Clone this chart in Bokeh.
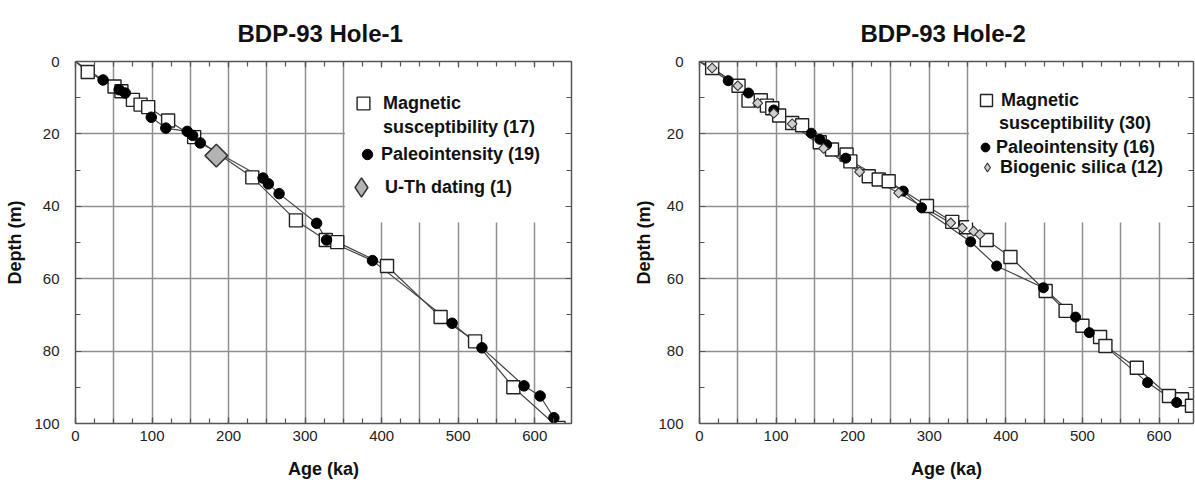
import numpy as np
from bokeh.plotting import figure
from bokeh.models import (Range1d, LinearAxis, FixedTicker, Legend, LegendItem,
                          BoxAnnotation)
from bokeh.layouts import row
from bokeh.embed import file_html
from bokeh.resources import INLINE

# ---------------- data (age in ka, depth in m) ----------------
# Hole-1
h1_ms_age = [16, 51, 60, 75, 85, 95, 121, 155, 231, 288, 327, 342, 407, 477, 522, 572, 631]
h1_ms_depth = [2.9, 6.9, 8.2, 10.6, 11.9, 12.6, 16.3, 20.9, 32.0, 43.9, 49.3, 49.9, 56.5, 70.6, 77.3, 90.0, 101.2]
h1_pi_age = [36, 57, 65, 99, 118, 146, 153, 163, 245, 252, 266, 315, 328, 388, 492, 531, 586, 607, 625]
h1_pi_depth = [5.1, 7.8, 8.7, 15.4, 18.4, 19.3, 20.4, 22.5, 32.2, 33.8, 36.5, 44.7, 49.3, 55.0, 72.3, 79.1, 89.6, 92.4, 98.4]
h1_uth_age = [184]
h1_uth_depth = [26.0]

# Hole-2
h2_ms_age = [16.5, 51, 64, 80, 88, 95, 104, 121, 134, 157, 173, 192, 197, 221, 234, 247, 297, 330, 348, 375,
             406, 452, 478, 500, 523, 530, 571, 613, 630, 643]
h2_ms_depth = [1.8, 6.7, 10.8, 10.7, 12.2, 12.9, 14.9, 17.0, 17.6, 22.3, 24.3, 25.7, 27.6, 31.7, 32.6, 33.1, 39.9,
               44.3, 45.8, 49.3, 54.0, 63.4, 68.9, 73.0, 76.1, 78.6, 84.6, 92.4, 93.3, 95.1]
h2_pi_age = [37.5, 64, 97, 146, 157, 166, 191, 266, 290, 354, 388, 449, 491, 509, 585, 623]
h2_pi_depth = [5.3, 8.7, 13.4, 19.8, 21.5, 23.0, 26.7, 35.8, 40.4, 49.8, 56.5, 62.5, 70.6, 74.9, 88.7, 94.2]
h2_bs_age = [16.5, 50, 76, 97, 121, 162, 209, 260, 328, 343, 358, 366]
h2_bs_depth = [1.8, 6.7, 11.5, 14.3, 17.2, 24.0, 30.5, 36.3, 44.6, 46.0, 46.9, 47.8]

# core top (lines start at the origin)
top_age = [0]
top_depth = [0]

x_labels = [0, 100, 200, 300, 400, 500, 600]
y_labels = [0, 20, 40, 60, 80, 100]
x_minor = list(range(0, 651, 25))
y_minor = list(range(0, 101, 10))
x_grid = list(range(50, 651, 50))
y_grid = [20, 40, 60, 80]

FONT = "Liberation Sans"
AX = "#555555"
GRID = "#8f8f8f"
LINE = "#444444"


def style_axis(ax, labels=True, standoff=5):
    ax.axis_line_color = AX
    ax.axis_line_width = 1.5
    ax.major_tick_in = 6
    ax.major_tick_out = 0
    ax.minor_tick_in = 5
    ax.minor_tick_out = 0
    ax.major_tick_line_color = AX
    ax.minor_tick_line_color = AX
    ax.major_tick_line_width = 1.2
    ax.minor_tick_line_width = 1.2
    if labels:
        ax.major_label_text_font = FONT
        ax.major_label_text_font_size = "15px"
        ax.major_label_text_color = "#222222"
        ax.major_label_standoff = standoff
        ax.axis_label_text_font = FONT
        ax.axis_label_text_font_style = "bold"
        ax.axis_label_text_font_size = "18px"
        ax.axis_label_text_color = "#111111"
    else:
        ax.major_label_text_font_size = "1px"
        ax.major_label_text_color = None
        ax.major_label_standoff = 0


def make_panel(title, x_end, frame_w, border_left, border_right, ylab_standoff):
    p = figure(frame_width=frame_w, frame_height=362,
               x_range=Range1d(0, x_end), y_range=Range1d(100, 0),
               output_backend="svg", toolbar_location=None,
               min_border_left=border_left, min_border_right=border_right,
               min_border_top=61, min_border_bottom=59,
               background_fill_color="white", border_fill_color="white",
               outline_line_color=None)
    p.title.text = title
    p.title.align = "center"
    p.title.vertical_align = "top"
    p.title.text_font = FONT
    p.title.text_font_style = "bold"
    p.title.text_font_size = "24px"
    p.title.text_color = "#111111"
    p.title.standoff = 26

    p.xaxis.ticker = FixedTicker(ticks=x_labels, minor_ticks=x_minor)
    p.yaxis.ticker = FixedTicker(ticks=y_labels, minor_ticks=y_minor)
    style_axis(p.xaxis[0], True, 7)
    style_axis(p.yaxis[0], True, 16)
    p.xaxis.axis_label = "Age (ka)"
    p.xaxis.axis_label_standoff = 15
    p.yaxis.axis_label = "Depth (m)"
    p.yaxis.axis_label_standoff = ylab_standoff

    top = LinearAxis(ticker=FixedTicker(ticks=x_labels, minor_ticks=x_minor))
    style_axis(top, False)
    p.add_layout(top, "above")
    right = LinearAxis(ticker=FixedTicker(ticks=y_labels, minor_ticks=y_minor))
    style_axis(right, False)
    p.add_layout(right, "right")

    p.xgrid.ticker = FixedTicker(ticks=x_grid)
    p.ygrid.ticker = FixedTicker(ticks=y_grid)
    for g in (p.xgrid[0], p.ygrid[0]):
        g.grid_line_color = GRID
        g.grid_line_width = 1.5

    # white legend area hiding the grid
    p.add_layout(BoxAnnotation(left=352, bottom=44.5, fill_color="white", fill_alpha=1.0,
                               line_alpha=0, level="glyph"))
    return p


def add_leg(p, label, r, gw, gh, standoff, vx, vy):
    leg = Legend(items=[LegendItem(label=label, renderers=[r])], location=(vx, vy),
                 glyph_width=gw, glyph_height=gh, label_standoff=standoff,
                 label_height=10, label_width=10,
                 padding=0, margin=0, spacing=0, border_line_alpha=0,
                 background_fill_alpha=0,
                 label_text_font=FONT, label_text_font_style="bold",
                 label_text_font_size="18px", label_text_color="#111111")
    p.add_layout(leg)


# ---------------- Hole-1 ----------------
p1 = make_panel("BDP-93  Hole-1", 648, 496, 75, 53, 6)
p1.line(top_age + h1_ms_age, top_depth + h1_ms_depth, line_color=LINE, line_width=1.2)
p1.line(top_age + h1_pi_age, top_depth + h1_pi_depth, line_color=LINE, line_width=1.2)
r_ms1 = p1.scatter(h1_ms_age, h1_ms_depth, marker="square", size=13, fill_color="white",
                   line_color="#222222", line_width=1.4)
r_pi1 = p1.scatter(h1_pi_age, h1_pi_depth, marker="circle", size=10.5, fill_color="black",
                   line_color="black")
# diamond key for the legend (hidden under the rotated-square marker)
k_uth1 = p1.scatter(h1_uth_age, h1_uth_depth, marker="diamond", size=10, fill_color="#b3b3b3",
                    line_color="#333333", line_width=1.5)
p1.scatter(h1_uth_age, h1_uth_depth, marker="square", angle=45, angle_units="deg",
           size=16, fill_color="#b3b3b3", line_color="#333333", line_width=1.5)
d1 = p1.scatter(h1_uth_age, h1_uth_depth, size=1, fill_alpha=0, line_alpha=0)
add_leg(p1, "Magnetic", r_ms1, 32, 32, 4, 272, 304)
add_leg(p1, "susceptibility (17)", d1, 20, 24, 0, 288, 284)
add_leg(p1, "Paleointensity (19)", r_pi1, 26, 26, 1, 279, 256)
add_leg(p1, "U-Th dating (1)", k_uth1, 48, 48, 0, 262, 212)

# ---------------- Hole-2 ----------------
p2 = make_panel("BDP-93  Hole-2", 645, 494, 75, 2, 1)
p2.line(top_age + h2_ms_age, top_depth + h2_ms_depth, line_color=LINE, line_width=1.2)
p2.line(top_age + h2_pi_age, top_depth + h2_pi_depth, line_color=LINE, line_width=1.2)
p2.line(top_age + h2_bs_age, top_depth + h2_bs_depth, line_color=LINE, line_width=1.2)
r_ms2 = p2.scatter(h2_ms_age, h2_ms_depth, marker="square", size=13, fill_color="white",
                   line_color="#222222", line_width=1.4)
r_pi2 = p2.scatter(h2_pi_age, h2_pi_depth, marker="circle", size=10, fill_color="black",
                   line_color="black")
k_bs2 = p2.scatter(h2_bs_age, h2_bs_depth, marker="diamond", size=4, fill_color="#cfcfcf",
                   line_color="#333333", line_width=1.1)
p2.scatter(h2_bs_age, h2_bs_depth, marker="square", angle=45, angle_units="deg",
           size=7, fill_color="#cfcfcf", line_color="#333333", line_width=1.1)
d2 = p2.scatter(h2_bs_age, h2_bs_depth, size=1, fill_alpha=0, line_alpha=0)
add_leg(p2, "Magnetic", r_ms2, 30, 30, 0, 272, 308)
add_leg(p2, "susceptibility (30)", d2, 20, 24, 0, 280, 288)
add_leg(p2, "Paleointensity (16)", r_pi2, 22, 24, 0, 275, 264)
add_leg(p2, "Biogenic silica (12)", k_bs2, 22, 24, 2, 277, 244)

layout = row(p1, p2, spacing=0)
open("out.html", "w").write(file_html(layout, INLINE))
